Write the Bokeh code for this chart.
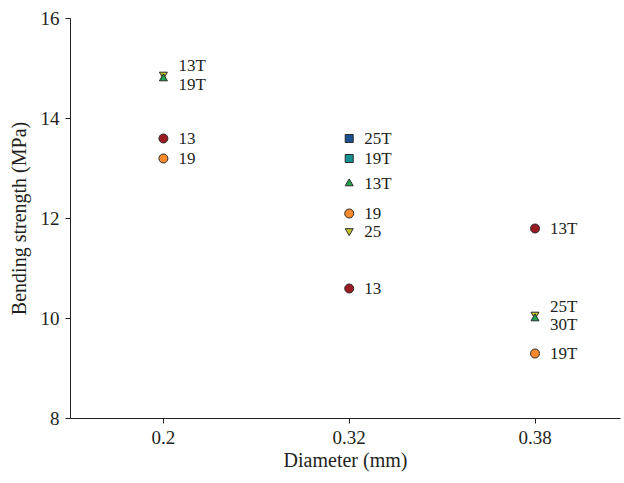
from bokeh.plotting import figure
from bokeh.models import Range1d, FixedTicker, ColumnDataSource
from bokeh.embed import file_html
from bokeh.resources import INLINE

# Fibre diameters (categories on the x axis)
diameters = ["0.2", "0.32", "0.38"]

# Each sample: diameter, label, bending strength (MPa), marker, fill colour
sample_diameter = ["0.2", "0.2", "0.2", "0.2",
                   "0.32", "0.32", "0.32", "0.32", "0.32", "0.32",
                   "0.38", "0.38", "0.38", "0.38"]
sample_label = ["13T", "19T", "13", "19",
                "25T", "19T", "13T", "19", "25", "13",
                "13T", "25T", "30T", "19T"]
strength = [14.88, 14.80, 13.6, 13.2,
            13.6, 13.2, 12.7, 12.1, 11.75, 10.6,
            11.8, 10.08, 10.0, 9.3]
marker = ["inverted_triangle", "triangle", "circle", "circle",
          "square", "square", "triangle", "circle", "inverted_triangle", "circle",
          "circle", "inverted_triangle", "triangle", "circle"]
colour = ["#c4c62c", "#22a24e", "#9b1b22", "#f5892c",
          "#1c4f8f", "#17918f", "#22a24e", "#f5892c", "#c4c62c", "#9b1b22",
          "#9b1b22", "#c4c62c", "#22a24e", "#f5892c"]

# Vertical nudges for labels of markers that sit on top of each other
label_nudge = {("0.2", "13T"): -9, ("0.2", "19T"): 6,
               ("0.38", "25T"): -8, ("0.38", "30T"): 6}

xs = [diameters.index(d) for d in sample_diameter]
dy = [label_nudge.get((d, l), 0) for d, l in zip(sample_diameter, sample_label)]
sizes = [9 if m == "circle" else 8 for m in marker]

src = ColumnDataSource(dict(x=xs, y=strength, label=sample_label, marker=marker,
                            colour=colour, dy=dy, size=sizes))

FONT = "Liberation Serif"
INK = "#231f20"

p = figure(width=624, height=483, output_backend="svg", toolbar_location=None,
           x_range=Range1d(-0.5, 2.46), y_range=Range1d(8, 16),
           min_border_left=70, min_border_top=18, min_border_bottom=65,
           min_border_right=4)
p.outline_line_color = None
p.grid.visible = False
p.background_fill_color = "white"

p.scatter("x", "y", source=src, marker="marker", size="size",
          fill_color="colour", line_color="#2b2b2b", line_width=1)
p.text("x", "y", text="label", source=src, x_offset=15, y_offset="dy",
       text_baseline="middle", text_align="left", text_font=FONT,
       text_font_size="17px", text_color=INK)

p.xaxis.ticker = FixedTicker(ticks=list(range(len(diameters))))
p.xaxis.major_label_overrides = {i: d for i, d in enumerate(diameters)}
p.xaxis.axis_label = "Diameter (mm)"
p.yaxis.ticker = FixedTicker(ticks=[8, 10, 12, 14, 16])
p.yaxis.axis_label = "Bending strength (MPa)"

for ax in (p.xaxis, p.yaxis):
    ax.minor_tick_line_color = None
    ax.major_tick_out = 5
    ax.major_tick_in = 0
    ax.axis_line_color = INK
    ax.major_tick_line_color = INK
    ax.major_label_text_font = FONT
    ax.major_label_text_font_size = "19px"
    ax.major_label_text_color = INK
    ax.axis_label_text_font = FONT
    ax.axis_label_text_font_size = "20px"
    ax.axis_label_text_font_style = "normal"
    ax.axis_label_text_color = INK
p.xaxis.major_label_standoff = 7
p.yaxis.major_label_standoff = 6
p.xaxis.axis_label_standoff = 2
p.yaxis.axis_label_standoff = 8

open("out.html", "w").write(file_html(p, INLINE))
